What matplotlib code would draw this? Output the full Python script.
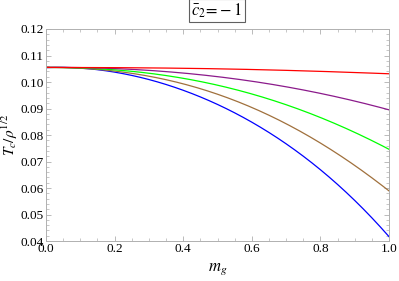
import numpy as np
import matplotlib
matplotlib.use("Agg")
import matplotlib.pyplot as plt
from matplotlib.ticker import MultipleLocator

# ---------------------------------------------------------------------------
# DATA
# ---------------------------------------------------------------------------
m_g = [0.0, 0.1, 0.2, 0.3, 0.4, 0.5, 0.6, 0.7, 0.8, 0.9, 1.0]

tc_red    = [0.1055, 0.1055, 0.1054, 0.1053, 0.1052, 0.1050, 0.1047, 0.1044, 0.1040, 0.1036, 0.1031]
tc_purple = [0.1055, 0.1055, 0.1050, 0.1044, 0.1034, 0.1020, 0.1003, 0.0982, 0.0957, 0.0928, 0.0895]
tc_green  = [0.1055, 0.1053, 0.1046, 0.1033, 0.1014, 0.0988, 0.0955, 0.0914, 0.0866, 0.0810, 0.0746]
tc_brown  = [0.1055, 0.1052, 0.1041, 0.1022, 0.0993, 0.0954, 0.0904, 0.0842, 0.0770, 0.0685, 0.0589]
tc_blue   = [0.1055, 0.1051, 0.1037, 0.1010, 0.0970, 0.0916, 0.0847, 0.0764, 0.0672, 0.0553, 0.0416]

series = [
    (tc_blue,   "#0000ff"),
    (tc_brown,  "#a0703c"),
    (tc_green,  "#00ff00"),
    (tc_purple, "#8b1a8b"),
    (tc_red,    "#ff0000"),
]

# ---------------------------------------------------------------------------
# PLOT
# ---------------------------------------------------------------------------
plt.rcParams["font.family"] = ["Liberation Serif", "DejaVu Serif"]
plt.rcParams["mathtext.fontset"] = "stix"

fig = plt.figure(figsize=(3.99, 2.81), dpi=100)
ax = fig.add_axes([0.1153, 0.1423, 0.8597, 0.7545])

# smooth the curves through the read points
xs = np.linspace(0, 1, 201)
for vals, color in series:
    coef = np.polyfit(m_g, vals, 4)
    ax.plot(xs, np.polyval(coef, xs), color=color, lw=0.9)

ax.set_xlim(0, 1)
ax.set_ylim(0.04, 0.12)
ax.xaxis.set_major_locator(MultipleLocator(0.2))
ax.xaxis.set_minor_locator(MultipleLocator(0.05))
ax.yaxis.set_major_locator(MultipleLocator(0.01))
ax.yaxis.set_minor_locator(MultipleLocator(0.002))
ax.xaxis.set_major_formatter(lambda v, p: f"{v:.1f}")
ax.yaxis.set_major_formatter(lambda v, p: f"{v:.2f}")

for s in ax.spines.values():
    s.set_color("#b0b0b0")
    s.set_linewidth(0.7)
ax.tick_params(which="both", direction="in", top=True, right=True,
               color="#b0b0b0", labelsize=9.5, pad=1.5)
ax.tick_params(which="major", length=3.5, width=0.6)
ax.tick_params(which="minor", length=2, width=0.5)

ax.set_xlabel(r"$m_g$", fontsize=12, labelpad=4)
ax.set_ylabel(r"$T_c/\rho^{1/2}$", fontsize=11)
ax.yaxis.set_label_coords(-0.075, 0.5)

fig.text(0.544, 0.963, r"$\bar{c}_2\!=\!-1$", ha="center", va="center",
         fontsize=12,
         bbox=dict(boxstyle="square,pad=0.15", fc="white", ec="#606060", lw=0.8))

fig.savefig("out.png", dpi=100)
